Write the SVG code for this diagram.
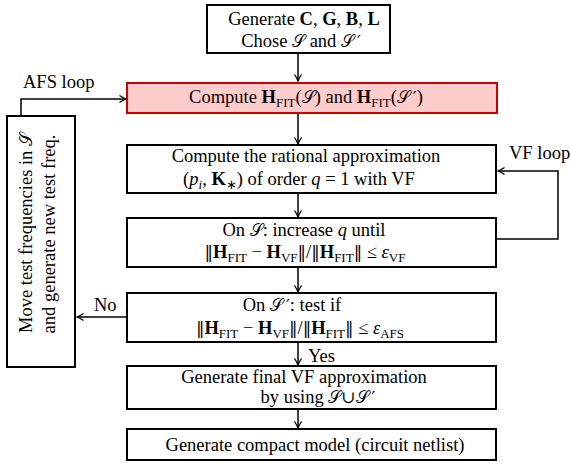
<svg xmlns="http://www.w3.org/2000/svg" width="571" height="464" viewBox="0 0 571 464">
<defs>
<style>
text{font-family:"Liberation Serif","Times New Roman",serif;font-size:18.5px;fill:#000}
.c{text-anchor:middle}
.i{font-style:italic}
.b{font-weight:bold}
.s{font-size:13px}
.scr{font-family:"DejaVu Serif","Noto Sans",serif;font-size:17px}
.nm{font-family:"DejaVu Serif","DejaVu Sans",serif;font-weight:normal;font-size:17px}
.pr{font-family:"DejaVu Serif",serif;font-size:17px}
.box{fill:#fff;stroke:#000;stroke-width:2}
.red{fill:#ffcccc;stroke:#cc0000;stroke-width:2}
.ln{fill:none;stroke:#000;stroke-width:1.5}
</style>
<marker id="ah" markerUnits="userSpaceOnUse" markerWidth="12" markerHeight="12" refX="0" refY="0" viewBox="-8 -6 10 12" orient="auto">
<path d="M-6.5,-3.5 Q-2.5,-0.8 0,0 Q-2.5,0.8 -6.5,3.5" fill="none" stroke="#000" stroke-width="1.3"/>
</marker>
</defs>

<g id="connectors">
<path class="ln" d="M298,53 V81" marker-end="url(#ah)"/>
<path class="ln" d="M298,113 V144" marker-end="url(#ah)"/>
<path class="ln" d="M298,193 V217" marker-end="url(#ah)"/>
<path class="ln" d="M298,267 V292" marker-end="url(#ah)"/>
<path class="ln" d="M298,342 V365" marker-end="url(#ah)"/>
<path class="ln" d="M298,409 V428" marker-end="url(#ah)"/>
<path class="ln" d="M497,239 H558 V171 H498" marker-end="url(#ah)"/>
<path class="ln" d="M126,317 H77" marker-end="url(#ah)"/>
<path class="ln" d="M21,116 V99 H126" marker-end="url(#ah)"/>
<text x="509" y="159">VF loop</text>
<text x="94" y="311">No</text>
<text x="308" y="362">Yes</text>
<text x="23" y="88">AFS loop</text>
</g>

<g id="n-generate">
<rect class="box" x="207" y="5" width="183" height="48"/>
<text class="c" x="304" y="25">Generate <tspan class="b">C</tspan>, <tspan class="b">G</tspan>, <tspan class="b">B</tspan>, <tspan class="b">L</tspan></text>
<text class="c" x="301" y="47">Chose <tspan class="scr">𝒮</tspan> and <tspan class="scr">𝒮</tspan><tspan class="pr" dx="3">′</tspan></text>
</g>

<g id="n-compute-hfit">
<rect class="red" x="127" y="83" width="370" height="30"/>
<text class="c" x="306" y="103">Compute <tspan class="b">H</tspan><tspan class="s" dy="4">FIT</tspan><tspan dy="-4">(</tspan><tspan class="scr">𝒮</tspan>) and <tspan class="b">H</tspan><tspan class="s" dy="4">FIT</tspan><tspan dy="-4">(</tspan><tspan class="scr">𝒮</tspan><tspan class="pr" dx="3">′</tspan>)</text>
</g>

<g id="n-rational">
<rect class="box" x="127" y="145" width="369" height="48"/>
<text class="c" x="306" y="162">Compute the rational approximation</text>
<text class="c" x="299" y="185">(<tspan class="i">p</tspan><tspan class="s i" dy="4">i</tspan><tspan dy="-4">, </tspan><tspan class="b">K</tspan><tspan class="s" font-size="11" dy="4">∗</tspan><tspan dy="-4">) of order </tspan><tspan class="i">q</tspan> = 1 with VF</text>
</g>

<g id="n-increase-q">
<rect class="box" x="127" y="218" width="369" height="49"/>
<text class="c" x="304" y="236">On <tspan class="scr">𝒮</tspan>: increase <tspan class="i">q</tspan> until</text>
<text class="c" x="305" y="258"><tspan class="nm">‖</tspan><tspan class="b">H</tspan><tspan class="s" dy="4">FIT</tspan><tspan dy="-4"> − </tspan><tspan class="b">H</tspan><tspan class="s" dy="4">VF</tspan><tspan class="nm" dy="-4">‖</tspan>/<tspan class="nm">‖</tspan><tspan class="b">H</tspan><tspan class="s" dy="4">FIT</tspan><tspan class="nm" dy="-4">‖</tspan> ≤ <tspan class="i">ε</tspan><tspan class="s" dy="4">VF</tspan></text>
</g>

<g id="n-test">
<rect class="box" x="127" y="293" width="369" height="49"/>
<text class="c" x="292" y="311">On <tspan class="scr">𝒮</tspan><tspan class="pr" dx="3">′</tspan>: test if</text>
<text class="c" x="300" y="334"><tspan class="nm">‖</tspan><tspan class="b">H</tspan><tspan class="s" dy="4">FIT</tspan><tspan dy="-4"> − </tspan><tspan class="b">H</tspan><tspan class="s" dy="4">VF</tspan><tspan class="nm" dy="-4">‖</tspan>/<tspan class="nm">‖</tspan><tspan class="b">H</tspan><tspan class="s" dy="4">FIT</tspan><tspan class="nm" dy="-4">‖</tspan> ≤ <tspan class="i">ε</tspan><tspan class="s" dy="4">AFS</tspan></text>
</g>

<g id="n-final-vf">
<rect class="box" x="127" y="366" width="369" height="43"/>
<text class="c" x="304" y="383">Generate final VF approximation</text>
<text class="c" x="318" y="403">by using <tspan class="scr">𝒮</tspan><tspan class="scr">∪</tspan><tspan class="scr">𝒮</tspan><tspan class="pr" dx="3">′</tspan></text>
</g>

<g id="n-compact">
<rect class="box" x="127" y="429" width="369" height="31"/>
<text class="c" x="315" y="451">Generate compact model (circuit netlist)</text>
</g>

<g id="n-move">
<rect class="box" x="7" y="116" width="68" height="251"/>
<text class="c" transform="translate(32,233) rotate(-90)">Move test frequencies in <tspan class="scr">𝒮</tspan></text>
<text class="c" transform="translate(55,234) rotate(-90)">and generate new test freq.</text>
</g>
</svg>
